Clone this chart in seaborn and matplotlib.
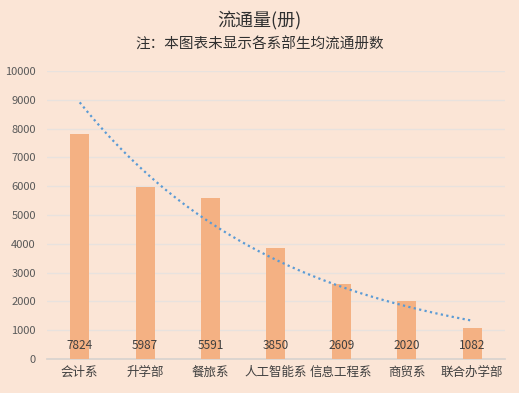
import matplotlib
matplotlib.use("Agg")
import matplotlib.pyplot as plt
import numpy as np
import pandas as pd
import seaborn as sns

departments = ["会计系", "升学部", "餐旅系", "人工智能系", "信息工程系", "商贸系", "联合办学部"]
volumes = [7824, 5987, 5591, 3850, 2609, 2020, 1082]
yticks = [0, 1000, 2000, 3000, 4000, 5000, 6000, 7000, 8000, 9000, 10000]

BG = "#FBE5D6"
BAR = "#F4B183"
TREND = "#5B9BD5"

sns.set_theme(style="white")
plt.rcParams["font.family"] = ["Noto Sans CJK SC", "DejaVu Sans"]

df = pd.DataFrame({"dept": departments, "vol": volumes})

fig = plt.figure(figsize=(5.19, 3.93), dpi=100)
fig.patch.set_facecolor(BG)
ax = fig.add_axes([0.0906, 0.0865, 0.882, 0.733])
ax.set_facecolor(BG)

sns.barplot(data=df, x="dept", y="vol", color=BAR, saturation=1, width=0.29,
            linewidth=0, ax=ax, zorder=3)

# exponential trendline fitted to the bar values (like Excel's)
x = np.arange(1, len(volumes) + 1)
b, a = np.polyfit(x, np.log(volumes), 1)
xs = np.linspace(1, len(volumes), 200)
ax.plot(xs - 1, np.exp(a + b * xs), linestyle=(0, (1, 1.5)), color=TREND,
        linewidth=1.6, zorder=4)

for i, v in enumerate(volumes):
    ax.text(i, 480, str(v), ha="center", va="center", fontsize=8.5,
            color="#404040", zorder=5)

ax.set_ylim(0, 10000)
ax.set_xlim(-0.5, len(departments) - 0.5)
ax.set_yticks(yticks)
ax.set_yticklabels([str(t) for t in yticks], fontsize=8, color="#595959")
ax.tick_params(axis="x", labelsize=9, colors="#404040", length=0, pad=5)
ax.tick_params(axis="y", length=0, pad=8)
ax.grid(axis="y", color="#E8E2DE", linewidth=1, zorder=0)
ax.set_axisbelow(True)
for s in ["top", "right", "left"]:
    ax.spines[s].set_visible(False)
ax.spines["bottom"].set_color("#D9D3CF")
ax.set_xlabel("")
ax.set_ylabel("")

fig.text(0.5, 0.950, "流通量(册)", ha="center", va="center", fontsize=13, color="#303030")
fig.text(0.5, 0.886, "注：本图表未显示各系部生均流通册数", ha="center", va="center",
         fontsize=10.5, color="#303030")

fig.savefig("out.png", dpi=100, facecolor=BG)
